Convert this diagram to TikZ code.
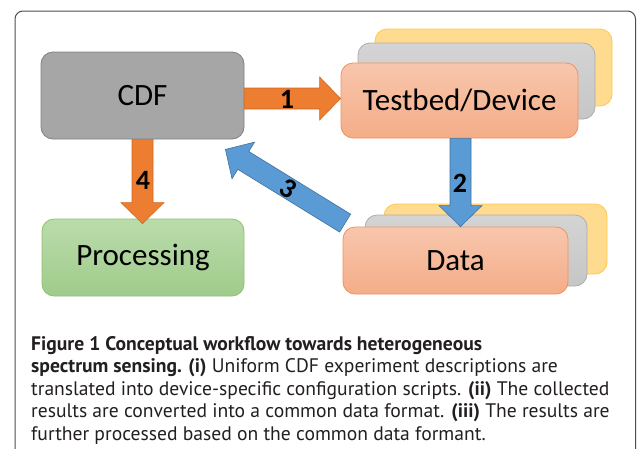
\documentclass[tikz,border=0pt]{standalone}
\usepackage{fontspec}
\setmainfont{Carlito}
\newfontfamily\capfont{PT Sans}
\usetikzlibrary{calc}
\definecolor{framec}{HTML}{4D4D4D}
\definecolor{cdffill}{HTML}{A6A6A6}
\definecolor{cdfdraw}{HTML}{808080}
\definecolor{grtop}{HTML}{BADCAB}
\definecolor{grbot}{HTML}{A0CB8B}
\definecolor{grdraw}{HTML}{8FC274}
\definecolor{satop}{HTML}{F8C6AC}
\definecolor{sabot}{HTML}{F4AD88}
\definecolor{sadraw}{HTML}{F0925E}
\definecolor{gytop}{HTML}{D4D4D4}
\definecolor{gybot}{HTML}{C6C6C6}
\definecolor{gydraw}{HTML}{ADADAD}
\definecolor{yefill}{HTML}{FFDB90}
\definecolor{yedraw}{HTML}{FFC845}
\definecolor{orfill}{HTML}{ED7D31}
\definecolor{ordraw}{HTML}{D0691F}
\definecolor{blfill}{HTML}{5B9BD5}
\definecolor{bldraw}{HTML}{41719C}
\definecolor{captext}{HTML}{231F20}
\newcommand\blockarrow[3]{%
  \coordinate (ba) at (#2);
  \coordinate (bb) at (#3);
  \coordinate (bh) at ($(bb)!21pt!(ba)$);
  \draw[#1] ($(ba)!10.5pt!90:(bb)$) -- ($(bh)!10.5pt!-90:(ba)$) -- ($(bh)!21.5pt!-90:(ba)$) -- (bb)
    -- ($(bh)!21.5pt!90:(ba)$) -- ($(bh)!10.5pt!90:(ba)$) -- ($(ba)!10.5pt!-90:(bb)$) -- cycle;}
\tikzset{
  box/.style={rounded corners=12pt, line width=0.8pt, inner sep=0pt, font=\fontsize{31}{33}\selectfont},
  cdfbox/.style={box, draw=cdfdraw, fill=cdffill},
  procbox/.style={box, draw=grdraw, top color=grtop, bottom color=grbot},
  frontbox/.style={box, draw=sadraw, top color=satop, bottom color=sabot},
  graybox/.style={box, draw=gydraw, top color=gytop, bottom color=gybot},
  yellowbox/.style={box, draw=yedraw, fill=yefill},
  orarrow/.style={fill=orfill, draw=ordraw, line width=0.6pt},
  blarrow/.style={fill=blfill, draw=bldraw, line width=0.6pt},
  numlabel/.style={font=\fontsize{28}{30}\selectfont\bfseries, inner sep=0pt},
  capline/.style={anchor=base west, inner sep=0pt, text=captext, font=\capfont\fontsize{19.6}{22}\selectfont}
}
\begin{document}
\begin{tikzpicture}[x=1pt, y=-1pt]
\useasboundingbox (0,0) rectangle (637,448);
\clip (0,0) rectangle (637,448);
\fill[white] (0,0) rectangle (637,448);
\draw[framec, line width=1pt, rounded corners=8pt] (15,470) -- (15,11) -- (635.5,11) -- (635.5,470);

% boxes
\node[cdfbox, minimum width=203pt, minimum height=87pt] (cdf) at (142.5,95.5) {CDF};
\node[procbox, minimum width=202pt, minimum height=77pt] (proc) at (143,257.5) {Processing};

\node[yellowbox, minimum width=237pt, minimum height=77pt] (tby) at (493.5,67.5) {};
\node[graybox, minimum width=237pt, minimum height=76pt] (tbg) at (476.5,81) {};
\node[frontbox, minimum width=237pt, minimum height=75pt] (tb) at (459.5,100.5) {Testbed/Device};

\node[yellowbox, minimum width=223pt, minimum height=70pt] (day) at (495.5,239) {};
\node[graybox, minimum width=222pt, minimum height=71pt] (dag) at (476,250.5) {};
\node[frontbox, minimum width=225pt, minimum height=67pt] (da) at (455.5,260.5) {Data};

% arrows
\coordinate (a1s) at ($(cdf.east)+(0,3)$);
\coordinate (a1e) at ($(tb.west)+(0,-2)$);
\blockarrow{orarrow}{a1s}{a1e}
\node[numlabel] (n1) at (287,99) {1};

\coordinate (a4s) at (cdf.south);
\coordinate (a4e) at ($(proc.north)+(-0.5,5)$);
\blockarrow{orarrow}{a4s}{a4e}
\node[numlabel] (n4) at (143,180) {4};

\coordinate (a2s) at ($(tb.south)+(1,0)$);
\coordinate (a2e) at (a2s |- da.north);
\blockarrow{blarrow}{a2s}{a2e}
\node[numlabel] (n2) at (460,183) {2};

\coordinate (a3s) at ($(da.north west)+(2.5,-3.5)$);
\coordinate (a3e) at ($(cdf.south east)+(-19,10)$);
\blockarrow{blarrow}{a3s}{a3e}
\node[numlabel, rotate=-32] (n3) at (288,189) {3};

% caption
\node[capline] (c1) at (31,350) {\bfseries Figure 1 Conceptual workflow towards heterogeneous};
\node[capline] (c2) at (31,372.5) {\bfseries spectrum sensing. (i)\mdseries{} Uniform CDF experiment descriptions are};
\node[capline] (c3) at (31,395) {translated into device-specific configuration scripts. \textbf{(ii)} The collected};
\node[capline] (c4) at (31,417.5) {results are converted into a common data format. \textbf{(iii)} The results are};
\node[capline] (c5) at (31,440) {further processed based on the common data formant.};
\end{tikzpicture}
\end{document}
